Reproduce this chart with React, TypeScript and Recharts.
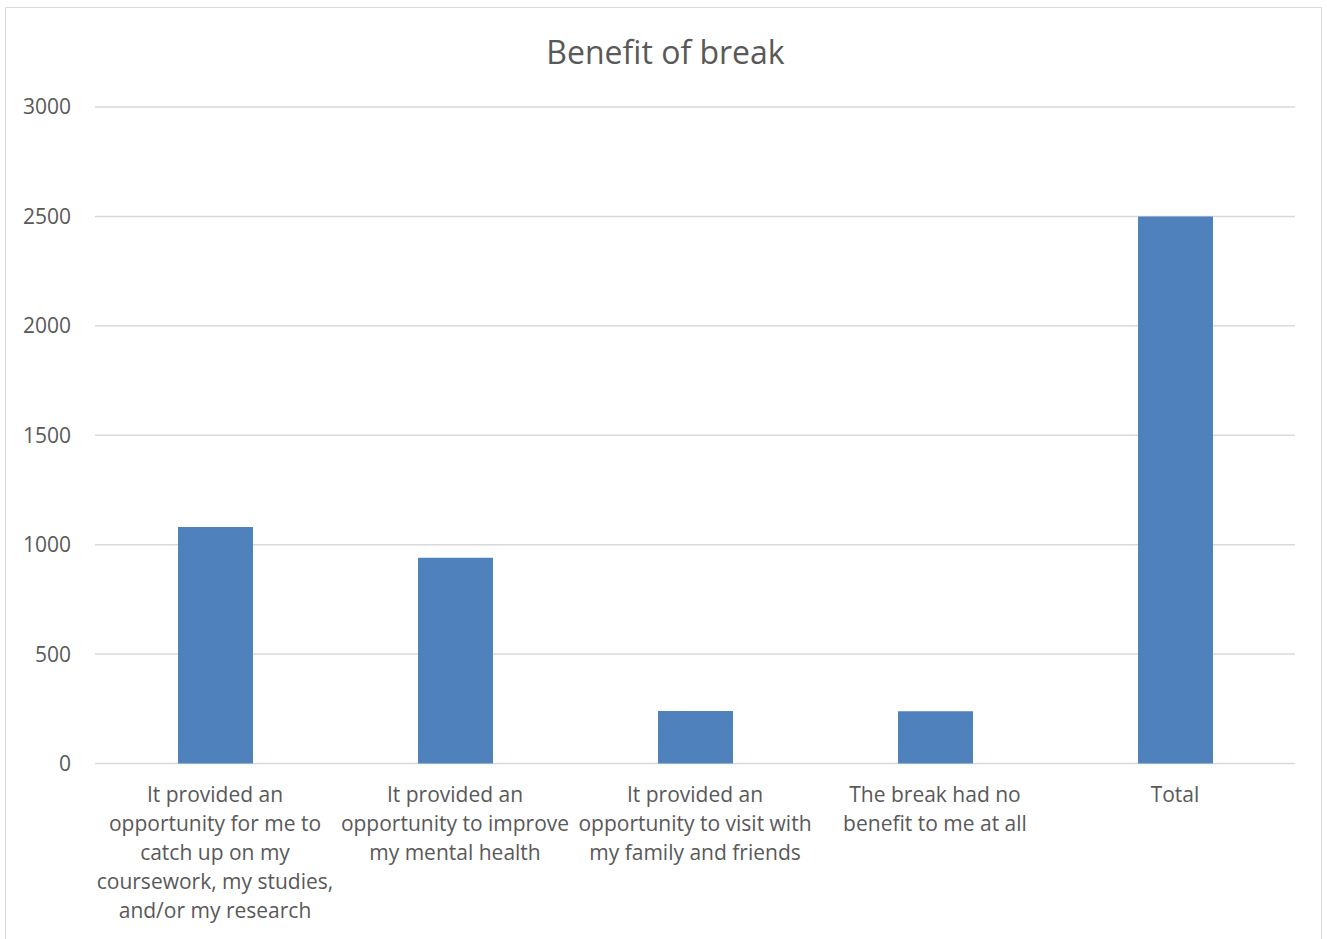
import React from "react";
import { BarChart, Bar, XAxis, YAxis, CartesianGrid } from "recharts";

// Responses to "Benefit of break"
const categories = [
  "It provided an opportunity for me to catch up on my coursework, my studies, and/or my research",
  "It provided an opportunity to improve my mental health",
  "It provided an opportunity to visit with my family and friends",
  "The break had no benefit to me at all",
  "Total",
];
const counts = [1081, 940, 240, 239, 2500];
const categoryLines = [
  ["It provided an", "opportunity for me to", "catch up on my", "coursework, my studies,", "and/or my research"],
  ["It provided an", "opportunity to improve", "my mental health"],
  ["It provided an", "opportunity to visit with", "my family and friends"],
  ["The break had no", "benefit to me at all"],
  ["Total"],
];
const yTicks = [0, 500, 1000, 1500, 2000, 2500, 3000];

const data = categories.map((name, i) => ({ name, value: counts[i] }));

const FONT = "'Open Sans', sans-serif";
const TEXT = "#595959";

function CategoryTick(props: any) {
  const { x, y, payload } = props;
  const lines = categoryLines[payload.index] ?? [String(payload.value)];
  return (
    <text x={x} y={y} textAnchor="middle" fill={TEXT} fontFamily={FONT} fontSize={21}>
      {lines.map((line: string, i: number) => (
        <tspan key={i} x={x} y={y + 30.5 + i * 29}>
          {line}
        </tspan>
      ))}
    </text>
  );
}

export default function App() {
  return (
    <div style={{ position: "absolute", left: 0, top: 0, width: 1327, height: 939, background: "#fff", overflow: "hidden" }}>
      <div
        style={{
          position: "absolute",
          left: 5,
          top: 7,
          width: 1317,
          height: 960,
          border: "1.5px solid #d9d9d9",
          boxSizing: "border-box",
        }}
      />
      <svg style={{ position: "absolute", left: 0, top: 0 }} width={1327} height={100}>
        <text x={665.5} y={63.5} textAnchor="middle" fill={TEXT} fontFamily={FONT} fontSize={32}>
          Benefit of break
        </text>
      </svg>
      <div style={{ position: "absolute", left: 0, top: 0 }}>
        <BarChart
          width={1327}
          height={939}
          data={data}
          margin={{ top: 107, right: 32, bottom: 0, left: 0 }}
        >
          <CartesianGrid vertical={false} stroke="#d9d9d9" strokeWidth={1.5} />
          <XAxis
            dataKey="name"
            axisLine={false}
            tickLine={false}
            interval={0}
            height={175.5}
            tick={<CategoryTick />}
          />
          <YAxis
            domain={[0, 3000]}
            ticks={yTicks}
            axisLine={false}
            tickLine={false}
            tickSize={0}
            tickMargin={24}
            width={95}
            tick={{ fill: TEXT, fontFamily: FONT, fontSize: 21 }}
          />
          <Bar dataKey="value" fill="#4f81bd" barSize={75} isAnimationActive={false} />
        </BarChart>
      </div>
    </div>
  );
}
